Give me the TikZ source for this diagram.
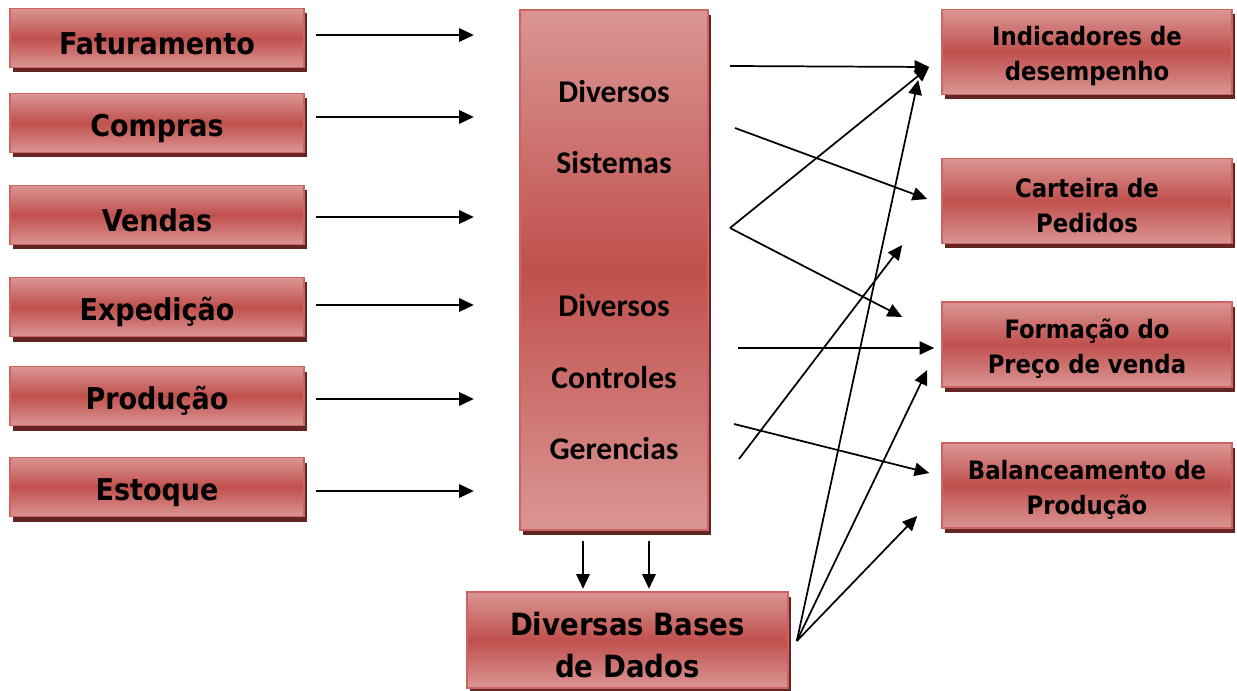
\documentclass[tikz,border=0pt]{standalone}
\usepackage{fontspec}
\usepackage{tikz}
\usetikzlibrary{arrows.meta,shadows,calc}
\newfontfamily\rotulo{DejaVu Sans Condensed}
\newfontfamily\calibri{Carlito}
\newlength\upx \setlength\upx{0.75pt}
\newcommand\alto{\rule{0pt}{1.1em}}
\definecolor{rosaclaro}{RGB}{218,150,148}
\definecolor{vermelho}{RGB}{192,80,77}
\definecolor{borda}{RGB}{205,100,97}
\definecolor{sombra}{RGB}{99,37,35}

\begin{document}
\begin{tikzpicture}[x=0.75pt,y=-0.75pt,
  caixa/.style={draw=borda, line width=1.2pt, top color=rosaclaro, bottom color=rosaclaro, middle color=vermelho,
    drop shadow={shadow xshift=3\upx, shadow yshift=-5\upx, fill=sombra, opacity=1},
    inner sep=0pt, align=center, text=black},
  esq/.style={caixa, minimum width=294\upx, minimum height=59\upx, font=\rotulo\bfseries\fontsize{22.5}{27}\selectfont},
  dir/.style={caixa, minimum width=290\upx, minimum height=85\upx, font=\rotulo\bfseries\fontsize{19}{26.25}\selectfont},
  seta/.style={-{Triangle[length=11pt,width=10pt]}, line width=1.6pt},
  setafina/.style={-{Triangle[length=11pt,width=10pt]}, line width=1.3pt}]
\useasboundingbox (0,0) rectangle (1237,691);

% entradas
\foreach \nome/\txt/\y/\dy in {fat/Faturamento/38/-3, comp/Compras/123/-6, vend/Vendas/215/2,
  exped/Expedição/307/-2, prod/Produção/396/3, estq/Estoque/487/4}{
  \node[esq] (\nome) at (157,\y) {\alto\txt};
  \draw[seta] ($(\nome.east)+(11,\dy)$) -- ++(158,0);
}

% sistemas e bases
\node[caixa, minimum width=188\upx, minimum height=520\upx, font=\calibri\bfseries\fontsize{23.7}{53.6}\selectfont] (sis) at (614,270)
  {Diversos\\Sistemas\\\mbox{}\\Diversos\\Controles\\Gerencias};
\node[caixa, minimum width=321\upx, minimum height=96\upx, font=\rotulo\bfseries\fontsize{23}{31.5}\selectfont] (bases) at (627.5,640)
  {\alto Diversas Bases\\de Dados};
\draw[seta] ($(sis.south)+(-31,10)$) -- ++(0,48);
\draw[seta] ($(sis.south)+(35,10)$) -- ++(0,48);

% saidas
\node[dir] (ind) at (1087,52) {\alto Indicadores de\\desempenho};
\node[dir] (cart) at (1087,201) {\alto Carteira de\\Pedidos};
\node[dir] (preco) at (1087,344.5) {\alto Formação do\\Preço de venda};
\node[dir] (bal) at (1087,485.5) {\alto Balanceamento de\\Produção};

\coordinate (s1) at (730,66);
\coordinate (s2) at (735,128);
\coordinate (s3) at (730,228);
\coordinate (s4) at (738,348);
\coordinate (s5) at (734,424);
\coordinate (s6) at (739,459);
\coordinate (b) at ($(bases.east)+(8,1)$);

\draw[setafina] (s1) -- ($(ind.west)+(-12,15)$);
\draw[setafina] (s2) -- ($(cart.west)+(-14,-2)$);
\draw[setafina] (s3) -- ($(ind.west)+(-12,15)$);
\draw[setafina] (s3) -- ($(preco.west)+(-39,-27.5)$);
\draw[setafina] (s4) -- ($(preco.west)+(-7,3.5)$);
\draw[setafina] (s5) -- ($(bal.west)+(-12,-12.5)$);
\draw[setafina] (s6) -- ($(cart.west)+(-39,44)$);
\draw[setafina] (b) -- ($(ind.west)+(-23,28)$);
\draw[setafina] (b) -- ($(preco.west)+(-14,25.5)$);
\draw[setafina] (b) -- ($(bal.west)+(-24,30.5)$);
\end{tikzpicture}
\end{document}
